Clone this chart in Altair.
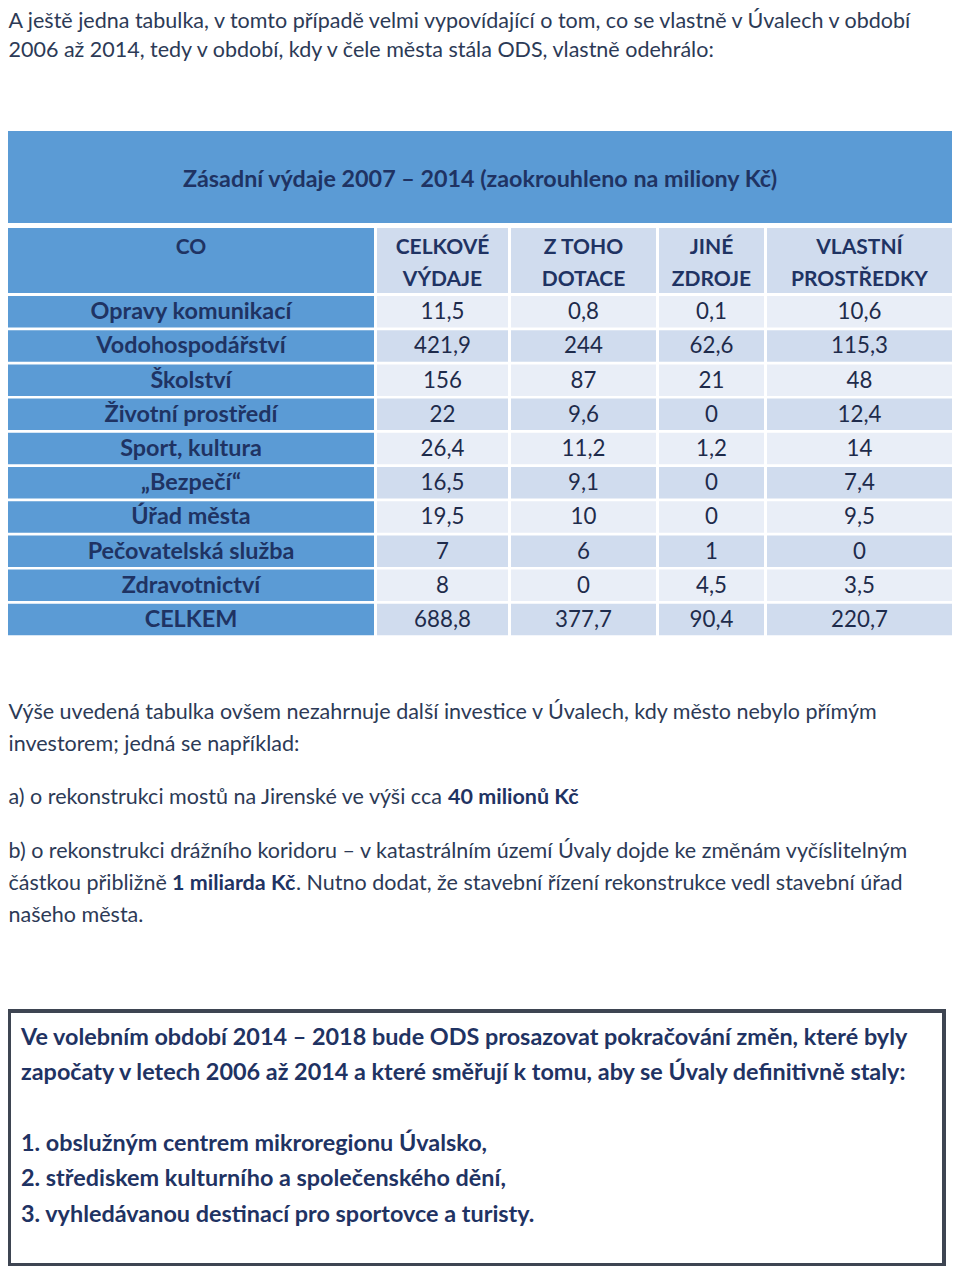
import altair as alt
import pandas as pd

# ---------------- data ----------------
intro_lines = [
    "A ještě jedna tabulka, v tomto případě velmi vypovídající o tom, co se vlastně v Úvalech v období",
    "2006 až 2014, tedy v období, kdy v čele města stála ODS, vlastně odehrálo:",
]
table_title = "Zásadní výdaje 2007 – 2014 (zaokrouhleno na miliony Kč)"
header_cols = [["CO"], ["CELKOVÉ", "VÝDAJE"], ["Z TOHO", "DOTACE"], ["JINÉ", "ZDROJE"], ["VLASTNÍ", "PROSTŘEDKY"]]
categories = ["Opravy komunikací", "Vodohospodářství", "Školství", "Životní prostředí", "Sport, kultura",
              "„Bezpečí“", "Úřad města", "Pečovatelská služba", "Zdravotnictví", "CELKEM"]
celkove = [11.5, 421.9, 156, 22, 26.4, 16.5, 19.5, 7, 8, 688.8]
dotace = [0.8, 244, 87, 9.6, 11.2, 9.1, 10, 6, 0, 377.7]
jine = [0.1, 62.6, 21, 0, 1.2, 0, 0, 1, 4.5, 90.4]
vlastni = [10.6, 115.3, 48, 12.4, 14, 7.4, 9.5, 0, 3.5, 220.7]

note_lines = [
    [("Výše uvedená tabulka ovšem nezahrnuje další investice v Úvalech, kdy město nebylo přímým", False)],
    [("investorem; jedná se například:", False)],
    [("a) o rekonstrukci mostů na Jirenské ve výši cca", False), ("40 milionů Kč", True)],
    [("b) o rekonstrukci drážního koridoru – v katastrálním území Úvaly dojde ke změnám vyčíslitelným", False)],
    [("částkou přibližně", False), ("1 miliarda Kč", True),
     (". Nutno dodat, že stavební řízení rekonstrukce vedl stavební úřad", False)],
    [("našeho města.", False)],
]
box_lines = [
    "Ve volebním období 2014 – 2018 bude ODS prosazovat pokračování změn, které byly",
    "započaty v letech 2006 až 2014 a které směřují k tomu, aby se Úvaly definitivně staly:",
    "1. obslužným centrem mikroregionu Úvalsko,",
    "2. střediskem kulturního a společenského dění,",
    "3. vyhledávanou destinací pro sportovce a turisty.",
]

# ---------------- layout (image pixel coordinates) ----------------
FONT = "Lato"
W, H = 944, 1258
X_DOM = [8, 8 + W]
Y_DOM = [8, 8 + H]
LEFT = 8.5
intro_y = [22, 51]
note_y = [713, 745, 798, 852, 884, 916]
note_seg_x = {2: [LEFT, 448], 4: [LEFT, 172, 296]}
box_y = [1038, 1073, 1144, 1179, 1215]
box_rect = dict(x=9, x2=944, y=1011, y2=1265)
band = dict(x=8, x2=952, y=131, y2=223)
title_y = 180
col_edges = [(8, 374), (377, 508), (511, 656), (659, 764), (767, 952)]
header_y = (228, 293)
header_line_y = [248, 280]
row_top0, row_pitch, row_h = 296, 34.2, 31.5

BLUE = "#5B9BD5"
LIGHT = "#E9EEF7"
DARK = "#D0DCEE"
NAVY = "#1F3363"
VAL = "#1E2B4B"
PARA = "#2C3A56"
BOX_STROKE = "#3E4552"

S_PARA = 21.5
S_TITLE = 23.3
S_HEAD = 21
S_LABEL = 23.4
S_VAL = 22.3
S_BOX = 23.4


def fmt(v):
    return f"{v:g}".replace(".", ",")


rects = []
rects.append(dict(band, fill=BLUE))
for ci, (a, b) in enumerate(col_edges):
    rects.append(dict(x=a, x2=b, y=header_y[0], y2=header_y[1], fill=BLUE if ci == 0 else DARK))
for ri in range(len(categories)):
    top = row_top0 + ri * row_pitch
    for ci, (a, b) in enumerate(col_edges):
        fill = BLUE if ci == 0 else (LIGHT if ri % 2 == 0 else DARK)
        rects.append(dict(x=a, x2=b, y=top, y2=top + row_h, fill=fill))
rect_df = pd.DataFrame(rects)

center_bold = []
center_norm = []
center_bold.append(dict(x=(band["x"] + band["x2"]) / 2, y=title_y, t=table_title, s=S_TITLE))
for ci, lines in enumerate(header_cols):
    cx = (col_edges[ci][0] + col_edges[ci][1]) / 2
    for li, ln in enumerate(lines):
        center_bold.append(dict(x=cx, y=header_line_y[li], t=ln, s=S_HEAD))
series = [celkove, dotace, jine, vlastni]
for ri, cat in enumerate(categories):
    cy = row_top0 + ri * row_pitch + row_h / 2 + 0.5
    cx0 = (col_edges[0][0] + col_edges[0][1]) / 2
    center_bold.append(dict(x=cx0, y=cy, t=cat, s=S_LABEL))
    for si, ser in enumerate(series):
        cx = (col_edges[si + 1][0] + col_edges[si + 1][1]) / 2
        center_norm.append(dict(x=cx, y=cy, t=fmt(ser[ri]), s=S_VAL))

left_norm = []
left_bold = []
for li, ln in enumerate(intro_lines):
    left_norm.append(dict(x=LEFT, y=intro_y[li], t=ln, s=S_PARA, c=PARA))
for li, segs in enumerate(note_lines):
    xs_ = note_seg_x.get(li, [LEFT])
    for si, (txt, bold) in enumerate(segs):
        d = dict(x=xs_[si], y=note_y[li], t=txt, s=S_PARA, c=NAVY if bold else PARA)
        (left_bold if bold else left_norm).append(d)
for li, ln in enumerate(box_lines):
    left_bold.append(dict(x=21, y=box_y[li], t=ln, s=S_BOX, c=NAVY))

xs = alt.Scale(domain=X_DOM, nice=False, zero=False)
ys = alt.Scale(domain=Y_DOM, nice=False, zero=False, reverse=True)


def enc_xy():
    return dict(x=alt.X("x:Q", scale=xs, axis=None), y=alt.Y("y:Q", scale=ys, axis=None))


rect_layer = alt.Chart(rect_df).mark_rect().encode(
    x=alt.X("x:Q", scale=xs, axis=None), x2="x2:Q",
    y=alt.Y("y:Q", scale=ys, axis=None), y2="y2:Q",
    color=alt.Color("fill:N", scale=None),
)
box_layer = alt.Chart(pd.DataFrame([box_rect])).mark_rect(
    filled=False, stroke=BOX_STROKE, strokeWidth=4
).encode(
    x=alt.X("x:Q", scale=xs, axis=None), x2="x2:Q",
    y=alt.Y("y:Q", scale=ys, axis=None), y2="y2:Q",
)
cb = alt.Chart(pd.DataFrame(center_bold)).mark_text(
    font=FONT, fontWeight="bold", align="center", baseline="middle", color=NAVY
).encode(**enc_xy(), text="t:N", size=alt.Size("s:Q", scale=None))
cn = alt.Chart(pd.DataFrame(center_norm)).mark_text(
    font=FONT, align="center", baseline="middle", color=VAL
).encode(**enc_xy(), text="t:N", size=alt.Size("s:Q", scale=None))
ln_ = alt.Chart(pd.DataFrame(left_norm)).mark_text(
    font=FONT, align="left", baseline="middle"
).encode(**enc_xy(), text="t:N", size=alt.Size("s:Q", scale=None), color=alt.Color("c:N", scale=None))
lb = alt.Chart(pd.DataFrame(left_bold)).mark_text(
    font=FONT, fontWeight="bold", align="left", baseline="middle"
).encode(**enc_xy(), text="t:N", size=alt.Size("s:Q", scale=None), color=alt.Color("c:N", scale=None))

chart = alt.layer(rect_layer, box_layer, cb, cn, ln_, lb).properties(
    width=W, height=H, padding=0, autosize=alt.AutoSizeParams(type="none"),
    background="white",
).configure_view(stroke=None)

chart.save("out.html", embed_options={"renderer": "svg", "actions": False})
